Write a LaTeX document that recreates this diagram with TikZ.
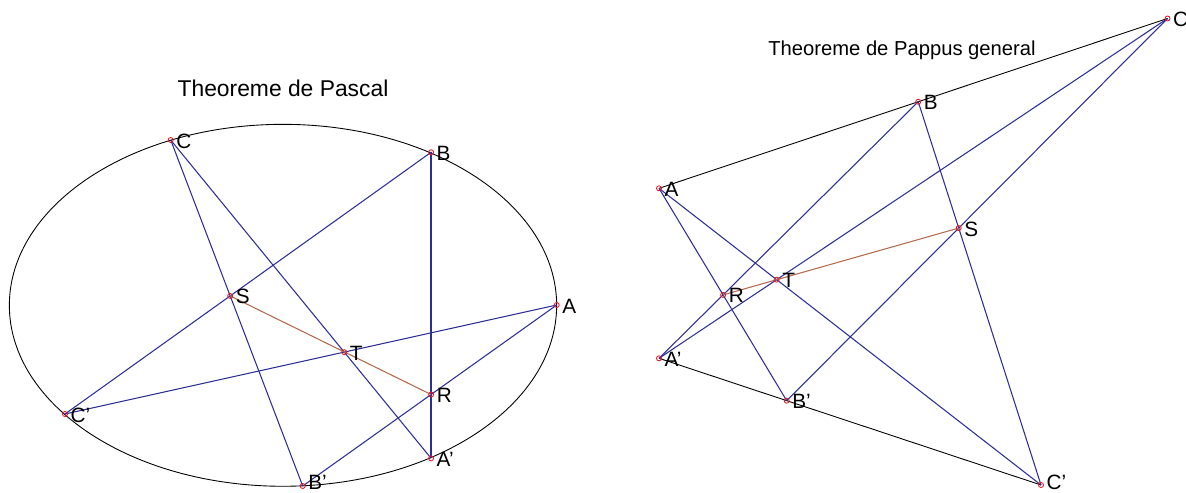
\documentclass[tikz,border=0pt]{standalone}
\usepackage{fontspec}
\setmainfont{Liberation Sans}
\usetikzlibrary{calc}

\definecolor{chordblue}{RGB}{45,45,150}
\definecolor{axisbrown}{RGB}{180,105,75}
\definecolor{pointred}{RGB}{225,30,40}

\begin{document}
\begin{tikzpicture}[
  x=0.02cm, y=-0.02cm,
  conic/.style={draw=black, line width=0.5pt},
  chord/.style={draw=chordblue, line width=0.6pt},
  axisline/.style={draw=axisbrown, line width=0.6pt},
  pt/.style={draw=pointred, line width=0.5pt},
  lbl/.style={anchor=west, inner sep=0pt, xshift=3pt, yshift=-0.5pt, font=\fontsize{11.8}{13}\selectfont},
  heading/.style={inner sep=0pt, font=\fontsize{11.5}{13}\selectfont}
]
\useasboundingbox (0,0) rectangle (1186,493);

\node[heading, font=\fontsize{13}{15}\selectfont] (pascaltitle) at (283,88) {Theoreme de Pascal};
\node[heading] (pappustitle) at (902,50) {Theoreme de Pappus general};

\coordinate (pA) at (556.7,305);
\coordinate (pB) at (431.1,152.3);
\coordinate (pC) at (170.7,140);
\coordinate (pAp) at (431.1,458.3);
\coordinate (pBp) at (302.7,486);
\coordinate (pCp) at (65,414);
\coordinate (pR) at (intersection of pA--pBp and pAp--pB);
\coordinate (pS) at (intersection of pB--pCp and pBp--pC);
\coordinate (pT) at (intersection of pC--pAp and pCp--pA);

\draw[conic] (283,305.3) ellipse [x radius=5.474cm, y radius=3.62cm];
\draw[chord] (pA) -- (pBp);
\draw[chord] (pA) -- (pCp);
\draw[chord, line width=0.75pt] (pB) -- (pAp);
\draw[chord] (pB) -- (pCp);
\draw[chord] (pC) -- (pAp);
\draw[chord] (pC) -- (pBp);
\draw[axisline] (pS) -- (pR);

\coordinate (qA) at (659,188.3);
\coordinate (qC) at (1167.5,18.5);
\coordinate (qB) at ($(qA)!0.5098!(qC)$);
\coordinate (qAp) at (659,358.3);
\coordinate (qBp) at (786.7,400.7);
\coordinate (qCp) at (1041,485);
\coordinate (qR) at (intersection of qA--qBp and qB--qAp);
\coordinate (qS) at (intersection of qB--qCp and qC--qBp);
\coordinate (qT) at (intersection of qA--qCp and qC--qAp);

\draw[conic] (qA) -- (qC);
\draw[conic] (qAp) -- (qCp);
\draw[chord] (qA) -- (qBp);
\draw[chord] (qA) -- (qCp);
\draw[chord] (qB) -- (qAp);
\draw[chord] (qB) -- (qCp);
\draw[chord] (qC) -- (qAp);
\draw[chord] (qC) -- (qBp);
\draw[axisline] (qR) -- (qS);

\foreach \p in {pA,pB,pC,pAp,pBp,pCp,pR,pS,pT,qA,qB,qC,qAp,qBp,qCp,qR,qS,qT}
  \draw[pt] (\p) circle [radius=0.05cm];

\node[lbl] (pAlbl) at (pA) {A};
\node[lbl] (pBlbl) at (pB) {B};
\node[lbl] (pClbl) at (pC) {C};
\node[lbl] (pAplbl) at (pAp) {A'};
\node[lbl, yshift=2.5pt] (pBplbl) at (pBp) {B'};
\node[lbl] (pCplbl) at (pCp) {C'};
\node[lbl] (pRlbl) at (pR) {R};
\node[lbl] (pSlbl) at (pS) {S};
\node[lbl] (pTlbl) at (pT) {T};

\node[lbl] (qAlbl) at (qA) {A};
\node[lbl] (qBlbl) at (qB) {B};
\node[lbl] (qClbl) at (qC) {C};
\node[lbl] (qAplbl) at (qAp) {A'};
\node[lbl] (qBplbl) at (qBp) {B'};
\node[lbl, yshift=2pt] (qCplbl) at (qCp) {C'};
\node[lbl] (qRlbl) at (qR) {R};
\node[lbl] (qSlbl) at (qS) {S};
\node[lbl] (qTlbl) at (qT) {T};
\end{tikzpicture}
\end{document}
